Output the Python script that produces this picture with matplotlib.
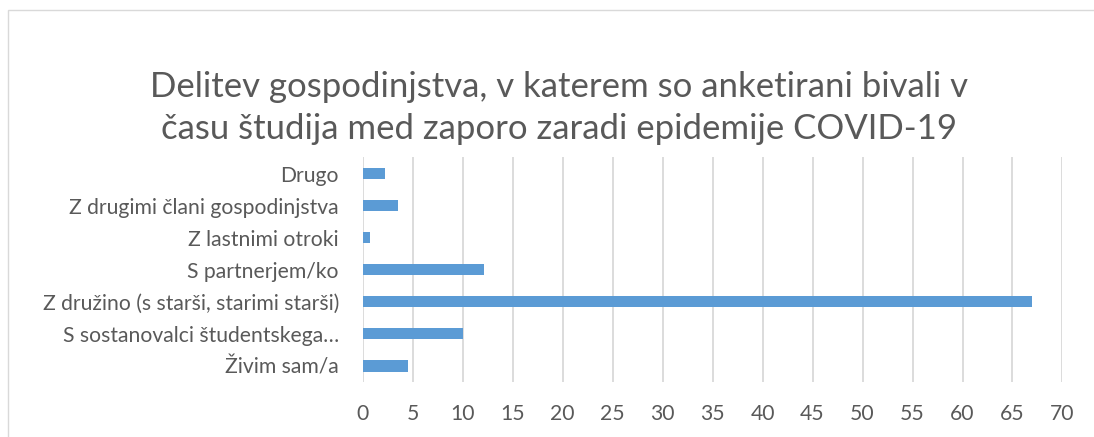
import matplotlib.pyplot as plt
from matplotlib.patches import Rectangle

categories = ["Živim sam/a", "S sostanovalci študentskega…", "Z družino (s starši, starimi starši)",
              "S partnerjem/ko", "Z lastnimi otroki", "Z drugimi člani gospodinjstva", "Drugo"]
values = [4.5, 10.0, 67.0, 12.1, 0.7, 3.5, 2.2]
ticks = list(range(0, 75, 5))

plt.rcParams['font.family'] = ['Lato', 'DejaVu Sans']

fig = plt.figure(figsize=(10.94, 4.37), dpi=100)
ax = fig.add_axes([0.3314, 0.1259, 0.6398, 0.5137])

ypos = range(len(categories))
ax.barh(ypos, values, height=0.35, color='#5B9BD5', zorder=3)
ax.set_xlim(0, 70)
ax.set_ylim(-0.5, len(categories) - 0.5)
ax.set_xticks(ticks)
ax.set_yticks(list(ypos))
ax.set_yticklabels(categories)
ax.grid(axis='x', color='#D9D9D9', linewidth=1.3, zorder=0)
for s in ax.spines.values():
    s.set_visible(False)
ax.tick_params(length=0, colors='#595959', labelsize=15.2)
ax.tick_params(axis='x', pad=16)
ax.tick_params(axis='y', pad=17)

fig.text(0.511, 0.752, "Delitev gospodinjstva, v katerem so anketirani bivali v\n"
         "času študija med zaporo zaradi epidemije COVID-19",
         ha='center', va='center', fontsize=25, color='#595959', linespacing=1.38)

# outer chart border (top and left visible)
fig.patches.append(Rectangle((8 / 1094, -0.1), 1.2, 1.1 - 10 / 437, transform=fig.transFigure,
                             fill=False, edgecolor='#D9D9D9', linewidth=1))

fig.savefig("out.png", dpi=100)
